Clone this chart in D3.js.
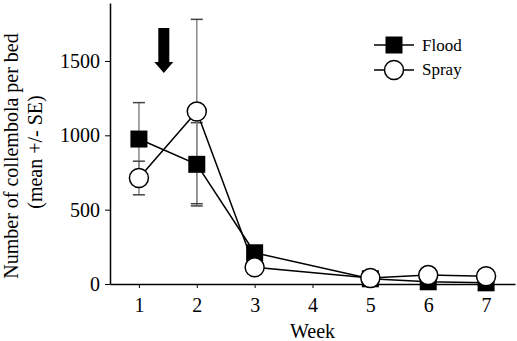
<!DOCTYPE html>
<html>
<head>
<meta charset="utf-8">
<script src="https://cdn.jsdelivr.net/npm/d3@7"></script>
<style>
  body { margin: 0; background: #fff; }
  text { font-family: "Liberation Serif", "Times New Roman", serif; fill: #000; }
</style>
</head>
<body>
<div id="container"></div>
<script>
let weeks = [1, 2, 3, 5, 6, 7];
let floodMean = [975, 805, 210, 35, 15, 8];
let floodSE = [245, 280, 0, 0, 0, 0];
let sprayMean = [713, 1160, 112, 40, 60, 52];
let spraySE = [113, 620, 0, 0, 0, 0];
let xTicks = [1, 2, 3, 4, 5, 6, 7];
let yTicks = [0, 500, 1000, 1500];

let width = 517, height = 341;
let plotLeft = 110, plotRight = 515, plotTop = 3, plotBottom = 284;

let svg = d3.select('#container').append('svg')
    .attr('width', width)
    .attr('height', height);

let x = d3.scaleLinear().domain([0.5, 7.5]).range([plotLeft, plotRight]);
let y = d3.scaleLinear().domain([0, 1890]).range([plotBottom, plotTop]);

// axes
let xAxis = svg.append('g')
    .attr('transform', 'translate(0,' + plotBottom + ')')
    .call(d3.axisBottom(x).tickValues(xTicks).tickFormat(d3.format('d'))
      .tickSize(4).tickSizeOuter(0).tickPadding(10));
let yAxis = svg.append('g')
    .attr('transform', 'translate(' + plotLeft + ',0)')
    .call(d3.axisLeft(y).tickValues(yTicks).tickFormat(d3.format('d'))
      .tickSize(5).tickSizeOuter(0).tickPadding(5));

[xAxis, yAxis].forEach(function(g) {
  g.attr('font-family', null).attr('font-size', null);
  g.select('.domain').attr('stroke', '#000').attr('stroke-width', 1.5);
  g.selectAll('.tick line').attr('stroke', '#000').attr('stroke-width', 1);
  g.selectAll('text')
      .style('font-size', '20px')
      .style('font-family', '"Liberation Serif", serif')
      .attr('fill', '#000');
});

// axis titles
svg.append('text')
    .attr('x', x(4)).attr('y', 338)
    .attr('text-anchor', 'middle')
    .attr('font-size', 20)
    .text('Week');

svg.append('text')
    .attr('transform', 'translate(18,156) rotate(-90)')
    .attr('text-anchor', 'middle')
    .attr('font-size', 20)
    .text('Number of collembola per bed');
svg.append('text')
    .attr('transform', 'translate(42,152) rotate(-90)')
    .attr('text-anchor', 'middle')
    .attr('font-size', 20)
    .text('(mean +/- SE)');

let flood = weeks.map(function(w, i) { return {week: w, mean: floodMean[i], se: floodSE[i]}; });
let spray = weeks.map(function(w, i) { return {week: w, mean: sprayMean[i], se: spraySE[i]}; });

// error bars
function errorBars(data) {
  let eb = svg.append('g').selectAll('g')
      .data(data.filter(function(d) { return d.se > 0; }))
      .enter().append('g')
      .attr('stroke', '#888')
      .attr('stroke-width', 1.5);
  eb.append('line')
      .attr('x1', function(d) { return x(d.week); })
      .attr('x2', function(d) { return x(d.week); })
      .attr('y1', function(d) { return y(d.mean - d.se); })
      .attr('y2', function(d) { return y(d.mean + d.se); });
  [-1, 1].forEach(function(s) {
    eb.append('line')
        .attr('x1', function(d) { return x(d.week) - 6; })
        .attr('x2', function(d) { return x(d.week) + 6; })
        .attr('y1', function(d) { return y(d.mean + s * d.se); })
        .attr('y2', function(d) { return y(d.mean + s * d.se); })
        .attr('stroke', '#444');
  });
}
errorBars(flood);
errorBars(spray);

let line = d3.line()
    .x(function(d) { return x(d.week); })
    .y(function(d) { return y(d.mean); });

svg.append('path').datum(flood)
    .attr('d', line).attr('fill', 'none').attr('stroke', '#000').attr('stroke-width', 1.5);
svg.append('path').datum(spray)
    .attr('d', line).attr('fill', 'none').attr('stroke', '#000').attr('stroke-width', 1.5);

let sq = 17, r = 9.5;

svg.append('g').selectAll('rect').data(flood)
    .enter().append('rect')
    .attr('x', function(d) { return x(d.week) - sq / 2; })
    .attr('y', function(d) { return y(d.mean) - sq / 2; })
    .attr('width', sq).attr('height', sq)
    .attr('fill', '#000');

svg.append('g').selectAll('circle').data(spray)
    .enter().append('circle')
    .attr('cx', function(d) { return x(d.week); })
    .attr('cy', function(d) { return y(d.mean); })
    .attr('r', r)
    .attr('fill', '#fff')
    .attr('stroke', '#000')
    .attr('stroke-width', 1.5);

// arrow marking treatment
let ax = x(1.43);
svg.append('path')
    .attr('d', 'M' + (ax - 5.5) + ',28 L' + (ax + 5.5) + ',28 L' + (ax + 5.5) + ',62 L' + (ax + 9.5) + ',62 L' + ax + ',73 L' + (ax - 9.5) + ',62 L' + (ax - 5.5) + ',62 Z')
    .attr('fill', '#000');

// legend
let legend = svg.append('g');
legend.append('line').attr('x1', 374).attr('x2', 414).attr('y1', 45).attr('y2', 45).attr('stroke', '#000').attr('stroke-width', 1.5);
legend.append('rect').attr('x', 394 - sq / 2).attr('y', 45 - sq / 2).attr('width', sq).attr('height', sq).attr('fill', '#000');
legend.append('text').attr('x', 422).attr('y', 51).attr('font-size', 17).text('Flood');
legend.append('line').attr('x1', 374).attr('x2', 414).attr('y1', 70).attr('y2', 70).attr('stroke', '#000').attr('stroke-width', 1.5);
legend.append('circle').attr('cx', 394).attr('cy', 70).attr('r', r).attr('fill', '#fff').attr('stroke', '#000').attr('stroke-width', 1.5);
legend.append('text').attr('x', 422).attr('y', 75).attr('font-size', 17).text('Spray');
</script>
</body>
</html>
